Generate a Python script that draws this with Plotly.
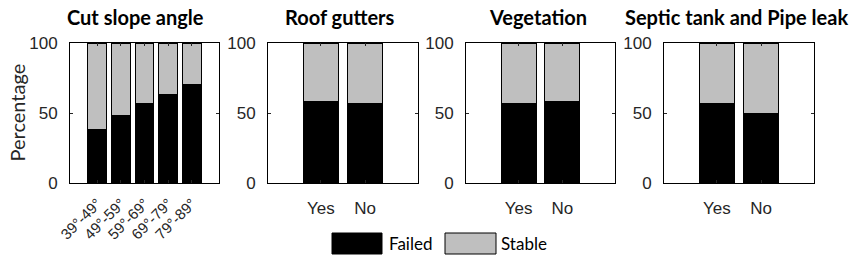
import plotly.graph_objects as go

titles = ["Cut slope angle", "Roof gutters", "Vegetation", "Septic tank and Pipe leak"]
cats_angle = ["39°-49°", "49°-59°", "59°-69°", "69°-79°", "79°-89°"]
cats_yn = ["Yes", "No"]
failed_angle = [38, 48.5, 56.5, 63, 70.5]
failed_gutters = [58, 57]
failed_veg = [57, 58]
failed_septic = [57, 50]

cats = [cats_angle, cats_yn, cats_yn, cats_yn]
failed = [failed_angle, failed_gutters, failed_veg, failed_septic]
stable = [[100 - v for v in f] for f in failed]

W, H = 856, 261
px_x = [(70, 219), (268, 418), (466, 615), (664, 814)]
px_y = (43, 183)
title_cx = [135, 340, 537.5, 736]

FAILED_C = "#000000"
STABLE_C = "#BFBFBF"
TICK_C = "#262626"
TICK_FONT = "Arial, Liberation Sans, sans-serif"
TEXT_FONT = "Lato"

fig = go.Figure()
for i in range(4):
    xa = "x" if i == 0 else f"x{i+1}"
    ya = "y" if i == 0 else f"y{i+1}"
    xs = list(range(len(cats[i])))
    fig.add_trace(go.Bar(x=xs, y=failed[i], xaxis=xa, yaxis=ya, width=0.8,
                         marker=dict(color=FAILED_C, line=dict(color="black", width=1)),
                         name="Failed", showlegend=False))
    fig.add_trace(go.Bar(x=xs, y=stable[i], xaxis=xa, yaxis=ya, width=0.8,
                         marker=dict(color=STABLE_C, line=dict(color="black", width=1)),
                         name="Stable", showlegend=False))
    n = len(cats[i])
    pad = 1.15 if i == 0 else 1.2
    axx = dict(domain=[px_x[i][0] / W, px_x[i][1] / W], range=[-pad, n - 1 + pad],
               tickmode="array", tickvals=xs, ticktext=cats[i],
               showline=True, linecolor="black", linewidth=1, mirror="ticks",
               ticks="inside", ticklen=3, tickcolor=TICK_C, automargin=False,
               showgrid=False, zeroline=False, anchor=ya, ticklabelstandoff=10,
               tickfont=dict(family=TICK_FONT, size=17, color=TICK_C))
    if i == 0:
        axx["tickangle"] = -45
        axx["ticklabelstandoff"] = 5
        axx["tickfont"] = dict(family=TICK_FONT, size=15, color=TICK_C)
    axy = dict(domain=[1 - px_y[1] / H, 1 - px_y[0] / H], range=[0, 100],
               tickvals=[0, 50, 100], showline=True, linecolor="black", linewidth=1,
               mirror="ticks", ticks="inside", ticklen=3, tickcolor=TICK_C,
               showgrid=False, zeroline=False, anchor=xa, automargin=False,
               ticklabelstandoff=8,
               tickfont=dict(family=TICK_FONT, size=17, color=TICK_C))
    fig.layout[("xaxis" if i == 0 else f"xaxis{i+1}")] = axx
    fig.layout[("yaxis" if i == 0 else f"yaxis{i+1}")] = axy
    fig.add_annotation(text=f"<b>{titles[i]}</b>", x=title_cx[i] / W, y=1 - 17 / H,
                       xref="paper", yref="paper", showarrow=False,
                       xanchor="center", yanchor="middle",
                       font=dict(family=TEXT_FONT, size=20, color="black"))

fig.add_annotation(text="Percentage", x=16.5 / W, y=1 - 113 / H, xref="paper", yref="paper",
                   showarrow=False, textangle=-90, xanchor="center", yanchor="middle",
                   font=dict(family=TEXT_FONT, size=20, color=TICK_C))

# legend (drawn manually for large swatches)
leg = [("Failed", FAILED_C, 332, 382, 387), ("Stable", STABLE_C, 445, 496, 499)]
for name, col, x0, x1, tx in leg:
    fig.add_shape(type="rect", xref="paper", yref="paper",
                  x0=x0 / W, x1=x1 / W, y0=1 - 254 / H, y1=1 - 233 / H,
                  fillcolor=col, line=dict(color="black", width=1))
    fig.add_annotation(text=name, x=tx / W, y=1 - 243.5 / H, xref="paper", yref="paper",
                       showarrow=False, xanchor="left", yanchor="middle",
                       font=dict(family=TEXT_FONT, size=17, color="black"))

fig.update_layout(width=W, height=H, margin=dict(l=0, r=0, t=0, b=0),
                  barmode="stack", bargap=0.2, plot_bgcolor="white",
                  paper_bgcolor="white", showlegend=False, hovermode=False)

fig.write_html("out.html", config={"displayModeBar": False, "staticPlot": True},
               post_script="document.body.style.margin='0';document.body.style.overflow='hidden';")
